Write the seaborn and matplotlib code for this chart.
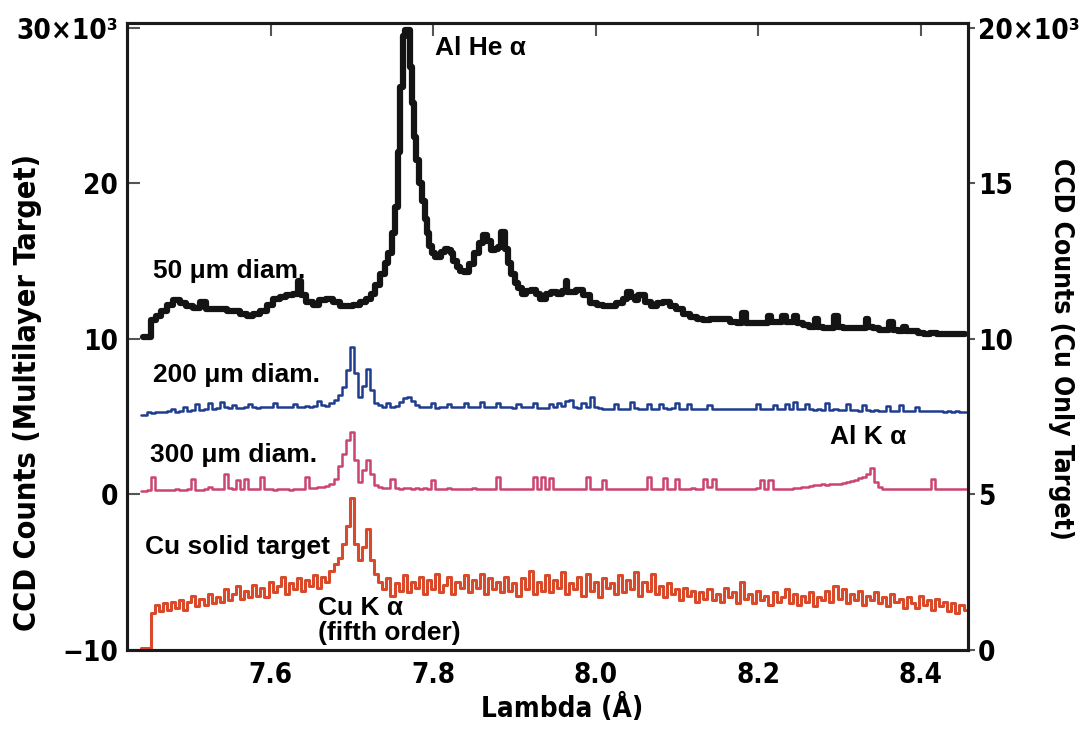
import numpy as np
import pandas as pd
import seaborn as sns
import matplotlib.pyplot as plt
from matplotlib import font_manager

# 50 um diam. trace (left axis, x10^3 counts)
black_x = [7.443, 7.452, 7.455, 7.462, 7.468, 7.476, 7.484, 7.492, 7.500, 7.509,
           7.517, 7.525, 7.534, 7.542, 7.550, 7.558, 7.566, 7.575, 7.583, 7.591,
           7.600, 7.607, 7.615, 7.624, 7.632, 7.636, 7.640, 7.648, 7.656, 7.664,
           7.673, 7.681, 7.689, 7.697, 7.705, 7.714, 7.720, 7.726, 7.732, 7.738,
           7.743, 7.747, 7.751, 7.755, 7.758, 7.761, 7.764, 7.767, 7.771, 7.773,
           7.775, 7.778, 7.780, 7.784, 7.788, 7.791, 7.794, 7.797, 7.800, 7.804,
           7.808, 7.812, 7.816, 7.820, 7.823, 7.827, 7.831, 7.836, 7.841, 7.847,
           7.853, 7.859, 7.864, 7.869, 7.874, 7.878, 7.882, 7.886, 7.890, 7.894,
           7.898, 7.903, 7.907, 7.911, 7.917, 7.923, 7.929, 7.935, 7.942, 7.948,
           7.956, 7.962, 7.964, 7.966, 7.972, 7.980, 7.988, 7.997, 8.005, 8.013,
           8.021, 8.030, 8.036, 8.042, 8.046, 8.050, 8.054, 8.058, 8.064, 8.071,
           8.079, 8.087, 8.095, 8.103, 8.111, 8.120, 8.128, 8.136, 8.144, 8.152,
           8.161, 8.170, 8.178, 8.183, 8.187, 8.195, 8.203, 8.210, 8.214, 8.218,
           8.226, 8.232, 8.235, 8.243, 8.246, 8.250, 8.259, 8.267, 8.272, 8.276,
           8.284, 8.291, 8.296, 8.300, 8.308, 8.316, 8.324, 8.331, 8.334, 8.337,
           8.345, 8.352, 8.358, 8.364, 8.368, 8.375, 8.380, 8.384, 8.392, 8.400,
           8.407, 8.416, 8.424, 8.432, 8.440, 8.447, 8.454]
black_y = [10.1, 10.1, 11.2, 11.5, 11.8, 12.2, 12.5, 12.3, 12.1, 12.0,
           12.4, 11.9, 11.9, 11.9, 11.8, 11.8, 11.6, 11.5, 11.6, 11.8,
           12.2, 12.6, 12.7, 12.8, 12.9, 13.7, 12.8, 12.4, 12.2, 12.5,
           12.6, 12.4, 12.1, 12.1, 12.2, 12.4, 12.6, 12.9, 13.5, 14.2,
           14.9, 15.5, 16.8, 18.5, 22.0, 26.2, 29.5, 29.9, 29.9, 27.5,
           25.2, 23.0, 21.5, 20.0, 18.9, 17.7, 16.8, 16.0, 15.5, 15.3,
           15.3, 15.6, 15.8, 15.7, 15.5, 15.0, 14.65, 14.4, 14.3, 14.8,
           15.5, 16.2, 16.7, 16.3, 15.7, 15.8, 15.9, 16.9, 15.8, 14.9,
           14.2, 13.6, 13.3, 12.9, 13.1, 13.15, 12.9, 12.6, 12.9, 13.05,
           12.9, 13.1, 13.7, 13.0, 13.0, 13.15, 12.8, 12.3, 12.2, 12.1,
           12.1, 12.3, 12.6, 13.05, 12.7, 12.5, 12.8, 12.8, 12.4, 12.1,
           12.3, 12.4, 12.1, 11.9, 11.6, 11.4, 11.3, 11.2, 11.3, 11.3,
           11.3, 11.1, 11.0, 11.7, 11.0, 11.0, 11.0, 11.0, 11.5, 11.1,
           11.1, 11.5, 11.1, 11.1, 11.5, 11.0, 10.9, 10.8, 11.3, 10.8,
           10.7, 10.7, 11.5, 10.8, 10.7, 10.7, 10.7, 10.7, 11.3, 10.8,
           10.7, 10.6, 10.6, 11.1, 10.6, 10.5, 10.8, 10.5, 10.5, 10.4,
           10.35, 10.4, 10.35, 10.35, 10.3, 10.35, 10.3]

# detector wavelength grid for the three thin traces
wavelength = np.round(np.linspace(7.440, 8.455, 204), 3)

# 200 um diam. (left axis)
blue_y = [5.10, 5.12, 5.30, 5.25, 5.28, 5.32, 5.30, 5.35, 5.50, 5.33,
          5.38, 5.60, 5.40, 5.42, 5.80, 5.45, 5.50, 5.90, 5.52, 5.55,
          5.95, 5.60, 5.55, 5.75, 5.58, 5.55, 5.60, 5.85, 5.60, 5.58,
          5.60, 5.62, 5.60, 5.90, 5.65, 5.62, 5.60, 5.65, 5.85, 5.62,
          5.65, 5.70, 5.65, 5.68, 6.00, 5.75, 5.72, 5.90, 6.10, 6.40,
          6.90, 8.00, 9.50, 7.80, 6.30, 7.00, 8.10, 6.70, 5.90, 5.75,
          5.65, 5.90, 5.60, 5.70, 5.95, 6.20, 6.30, 6.00, 5.75, 5.65,
          5.60, 5.62, 5.90, 5.58, 5.60, 5.62, 5.85, 5.60, 5.60, 5.62,
          5.90, 5.62, 5.60, 5.65, 5.95, 5.60, 5.62, 5.60, 5.90, 5.62,
          5.60, 5.65, 5.58, 5.85, 5.60, 5.60, 5.62, 5.90, 5.58, 5.55,
          5.55, 5.85, 5.60, 5.90, 5.70, 6.00, 6.10, 5.60, 5.58, 5.90,
          5.60, 6.25, 5.60, 5.55, 5.52, 5.50, 5.50, 5.80, 5.52, 5.50,
          5.52, 5.95, 5.55, 5.50, 5.52, 5.80, 5.52, 5.50, 5.85, 5.55,
          5.52, 5.55, 5.90, 5.52, 5.50, 5.80, 5.50, 5.52, 5.50, 5.48,
          5.75, 5.50, 5.48, 5.50, 5.48, 5.50, 5.48, 5.52, 5.50, 5.50,
          5.52, 5.50, 5.85, 5.50, 5.52, 5.50, 5.75, 5.52, 5.50, 5.80,
          5.50, 5.95, 5.50, 5.48, 5.80, 5.48, 5.45, 5.50, 5.45, 5.90,
          5.45, 5.48, 5.45, 5.42, 5.80, 5.45, 5.42, 5.40, 5.75, 5.42,
          5.40, 5.42, 5.38, 5.40, 5.70, 5.38, 5.40, 5.75, 5.38, 5.35,
          5.38, 5.60, 5.35, 5.38, 5.36, 5.35, 5.34, 5.35, 5.33, 5.35,
          5.32, 5.34, 5.32, 5.30]

# 300 um diam. (left axis)
pink_y = [0.20, 0.22, 0.30, 1.15, 0.30, 0.28, 0.30, 0.32, 0.30, 0.35,
          0.32, 0.30, 0.33, 1.00, 0.32, 0.30, 0.35, 0.50, 0.33, 0.35,
          0.35, 1.30, 0.40, 0.35, 0.95, 0.38, 1.00, 0.35, 0.33, 0.35,
          1.10, 0.35, 0.33, 0.32, 0.34, 0.33, 0.35, 0.32, 0.34, 0.35,
          0.38, 1.15, 0.40, 0.42, 0.45, 0.48, 0.55, 0.70, 1.00, 1.80,
          2.60, 3.50, 4.00, 2.20, 0.80, 1.60, 2.20, 1.30, 0.60, 0.45,
          0.40, 0.42, 1.00, 0.40, 0.38, 0.40, 0.42, 0.38, 0.40, 0.38,
          0.40, 0.38, 0.90, 0.38, 0.36, 0.38, 0.40, 0.38, 0.36, 0.38,
          0.36, 0.38, 0.40, 0.38, 0.36, 0.35, 0.38, 0.36, 1.15, 0.36,
          0.35, 0.38, 0.36, 0.35, 0.38, 0.35, 0.36, 1.10, 0.38, 1.15,
          0.36, 1.05, 0.38, 0.36, 0.35, 0.38, 0.36, 0.35, 0.38, 0.36,
          1.15, 0.38, 0.36, 0.35, 0.90, 0.36, 0.35, 0.38, 0.36, 0.35,
          0.38, 0.36, 0.35, 0.38, 0.36, 1.15, 0.38, 0.36, 0.35, 1.05,
          0.38, 0.36, 1.00, 0.35, 0.38, 0.36, 0.40, 0.36, 0.38, 1.00,
          0.45, 1.00, 0.38, 0.36, 0.38, 0.35, 0.36, 0.38, 0.36, 0.35,
          0.38, 0.36, 0.40, 0.95, 0.38, 0.90, 0.36, 0.38, 0.36, 0.38,
          0.36, 0.40, 0.42, 0.45, 0.50, 0.55, 0.58, 0.62, 0.65, 0.62,
          0.65, 0.70, 0.65, 0.72, 0.80, 0.85, 0.95, 1.05, 1.10, 1.30,
          1.70, 0.80, 0.45, 0.38, 0.36, 0.38, 0.36, 0.35, 0.38, 0.36,
          0.38, 0.36, 0.35, 0.38, 0.36, 1.00, 0.38, 0.36, 0.35, 0.38,
          0.36, 0.38, 0.36, 0.38]

# Cu solid target (right axis)
cu_y = [0.05, 0.05, 0.05, 1.20, 1.45, 1.25, 1.50, 1.30, 1.55, 1.35,
        1.60, 1.30, 1.55, 1.75, 1.40, 1.65, 1.45, 1.80, 1.50, 1.70,
        1.55, 1.95, 1.60, 1.80, 2.05, 1.65, 1.90, 1.70, 2.10, 1.75,
        2.00, 1.70, 2.20, 1.85, 2.05, 2.35, 1.80, 2.15, 1.95, 2.30,
        1.90, 2.25, 2.05, 2.40, 2.00, 2.35, 2.20, 2.55, 2.75, 2.95,
        3.40, 4.00, 4.90, 3.40, 2.90, 3.30, 3.90, 2.90, 2.45, 2.20,
        1.95, 2.30, 1.75, 2.15, 1.90, 2.40, 1.85, 2.20, 2.00, 2.35,
        1.80, 2.25, 1.95, 2.45, 1.85, 2.10, 2.35, 1.80, 2.20, 2.00,
        2.40, 1.85, 2.25, 2.00, 2.45, 1.80, 2.30, 1.95, 2.20, 1.85,
        2.35, 1.90, 2.15, 1.75, 2.30, 1.95, 2.55, 1.80, 2.20, 1.90,
        2.40, 1.85, 2.25, 2.00, 2.50, 1.80, 2.15, 1.95, 2.35, 1.75,
        2.45, 1.90, 2.20, 1.70, 2.30, 2.00, 2.15, 1.80, 2.40, 1.85,
        2.25, 1.95, 2.50, 1.75, 2.20, 1.90, 2.45, 1.80, 2.05, 1.70,
        2.15, 1.80, 1.95, 1.60, 2.00, 1.75, 1.90, 1.55, 1.85, 1.65,
        1.95, 1.60, 1.80, 1.55, 2.00, 1.70, 1.85, 1.50, 2.20, 1.65,
        1.80, 1.50, 1.90, 1.60, 1.75, 1.45, 1.85, 1.55, 1.70, 1.95,
        1.50, 1.80, 1.45, 1.75, 1.55, 1.85, 1.40, 1.70, 1.60, 1.90,
        1.55, 2.05, 1.65, 1.95, 1.50, 1.80, 1.60, 1.90, 1.45, 1.75,
        1.60, 1.85, 1.50, 1.70, 1.40, 1.80, 1.55, 1.65, 1.35, 1.70,
        1.50, 1.35, 1.75, 1.45, 1.60, 1.30, 1.65, 1.40, 1.55, 1.25,
        1.50, 1.20, 1.45, 1.30]

left_ticks = [-10, 0, 10, 20, 30]
left_labels = ["\u221210", "0", "10", "20", "30\u00d710\u00b3"]
right_ticks = [0, 5, 10, 15, 20]
right_labels = ["0", "5", "10", "15", "20\u00d710\u00b3"]
x_ticks = [7.6, 7.8, 8.0, 8.2, 8.4]

sns.set_theme(style="white")

# condensed face for axes text if the system has one
has_cond = any(f.name == "DejaVu Sans" and f.stretch not in ("normal", 500)
               for f in font_manager.fontManager.ttflist)
if has_cond:
    axis_font = dict(family=["DejaVu Sans"], stretch="condensed")
else:
    axis_font = dict(family=["Liberation Sans", "DejaVu Sans"], stretch="normal")
tsize = 20
wide = ["Liberation Sans", "DejaVu Sans"]
plt.rcParams['font.family'] = axis_font["family"]
plt.rcParams['font.stretch'] = axis_font["stretch"]
plt.rcParams['font.weight'] = 'bold'
plt.rcParams['text.color'] = 'black'
plt.rcParams['axes.labelcolor'] = 'black'

fig = plt.figure(figsize=(10.8, 7.3), dpi=100)
ax = fig.add_axes([0.1173, 0.1096, 0.779, 0.8589])
ax2 = ax.twinx()

black = pd.DataFrame({"x": black_x, "y": black_y})
thin = pd.DataFrame({"x": wavelength, "blue": blue_y, "pink": pink_y, "cu": cu_y})

sns.lineplot(data=black, x="x", y="y", ax=ax, color="#141414", lw=4.5,
             estimator=None, sort=False, drawstyle="steps-mid")
sns.lineplot(data=thin, x="x", y="blue", ax=ax, color="#1f3d8e", lw=1.8,
             estimator=None, sort=False, drawstyle="steps-mid")
sns.lineplot(data=thin, x="x", y="pink", ax=ax, color="#cc4470", lw=1.8,
             estimator=None, sort=False, drawstyle="steps-mid")
sns.lineplot(data=thin, x="x", y="cu", ax=ax2, color="#d84a2a", lw=2.2,
             estimator=None, sort=False, drawstyle="steps-mid")

ax.set_xlim(7.423, 8.458)
ax.set_ylim(-10, 30.32)
ax2.set_ylim(0, 20.16)

ax.set_xticks(x_ticks)
ax.set_xticklabels([f"{t:.1f}" for t in x_ticks])
ax.set_yticks(left_ticks)
ax.set_yticklabels(left_labels)
ax2.set_yticks(right_ticks)
ax2.set_yticklabels(right_labels)

ax.tick_params(axis="both", direction="in", length=9, width=1.5, color="#555555",
               labelsize=tsize, labelcolor="black", top=True, right=False)
ax.tick_params(axis="x", pad=8)
ax.tick_params(axis="y", pad=6)
ax2.tick_params(axis="y", direction="out", length=5, width=1.5, color="#555555",
                labelsize=tsize, labelcolor="black", pad=2, left=False)
for a in (ax, ax2):
    for s in a.spines.values():
        s.set_linewidth(2.2)
        s.set_color("#1a1a1a")
    for lab in a.get_yticklabels() + a.get_xticklabels():
        lab.set_fontweight("bold")

ax.set_xlabel("Lambda (\u00c5)", fontsize=tsize, fontweight="bold", va="center")
ax.xaxis.set_label_coords(0.518, -0.0925)
ax.set_ylabel("CCD Counts (Multilayer Target)", fontsize=22, fontweight="bold", va="center")
ax.yaxis.set_label_coords(-0.118, 0.41)
ax2.set_ylabel("CCD Counts (Cu Only Target)", fontsize=19, fontweight="bold",
               rotation=270, va="center")
ax2.yaxis.set_label_coords(1.111, 0.48)

note = dict(fontsize=19, fontweight="bold", family=wide, stretch="normal",
            color="black", va="center")
ax.text(7.802, 28.7, "Al He \u03b1", **note)
ax.text(7.455, 14.4, "50 \u03bcm diam.", **note)
ax.text(7.455, 7.7, "200 \u03bcm diam.", **note)
ax.text(7.452, 2.55, "300 \u03bcm diam.", **note)
ax.text(8.288, 3.7, "Al K \u03b1", **note)
ax.text(7.446, -3.4, "Cu solid target", **note)
ax.text(7.658, -7.3, "Cu K \u03b1", **note)
ax.text(7.658, -8.9, "(fifth order)", **note)

fig.savefig("out.png", dpi=100)
